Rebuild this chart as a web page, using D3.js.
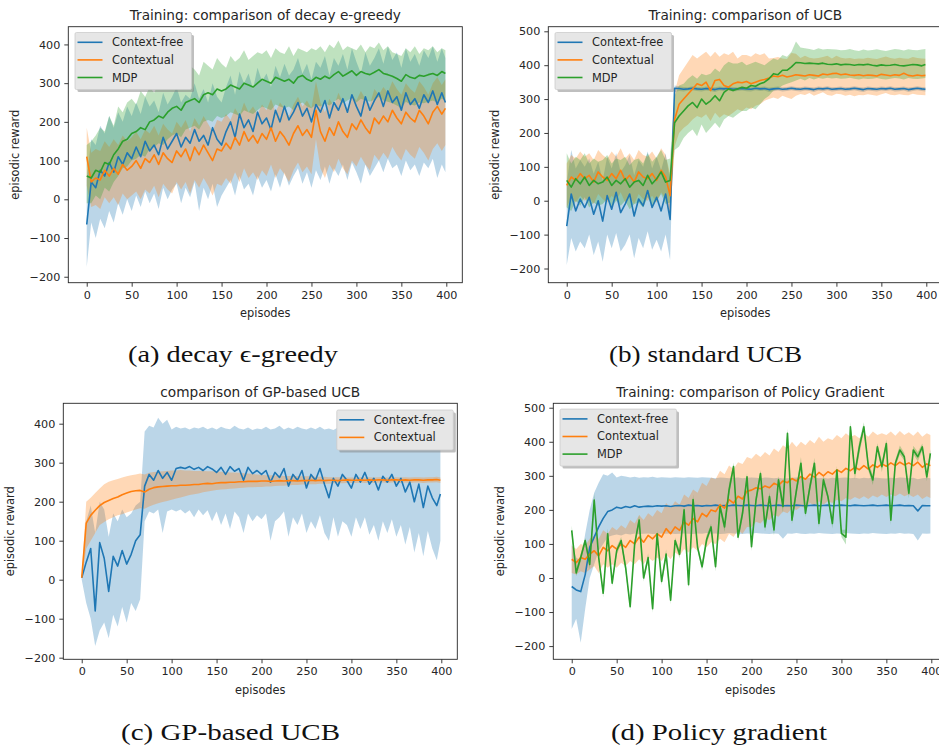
<!DOCTYPE html>
<head>
  <meta charset="utf-8">
  <script src="https://d3js.org/d3.v7.min.js"></script>
  <style>
    body { margin: 0; background: #fff; }
    svg { font-family: "DejaVu Sans", sans-serif; }
    .tick text { font-size: 11.2px; fill: #262626; }
    .tick line { stroke: #262626; stroke-width: 0.9; }
  </style>
</head>

<body>
  <svg width="939" height="751"></svg>
  <script>
    // episodes sampled every 5 plus the last one
    var episodes = d3.range(0, 400, 5).concat([399]);
    var xTicks = [0, 50, 100, 150, 200, 250, 300, 350, 400];
    var seriesNames = ['Context-free', 'Contextual', 'MDP'];
    var colors = ['#1f77b4', '#ff7f0e', '#2ca02c'];

    // (a) decay e-greedy
    var aCfMean = [-65,45,30,75,60,95,70,110,90,120,
      105,135,110,150,125,140,115,160,130,150,
      170,135,160,145,180,150,165,140,185,155,
      140,175,200,160,220,185,205,175,225,195,
      210,180,230,200,240,205,225,250,215,235,
      200,245,225,255,210,250,230,260,225,270,
      240,215,265,230,255,275,240,280,250,265,
      230,275,245,260,235,270,250,280,245,275,
      250];
    var aCfLo = [-175,-60,-100,-50,-75,-30,-60,-10,-40,0,
      -30,10,-20,20,-10,15,-25,30,0,25,
      40,-10,30,5,45,-30,30,0,40,-20,
      10,30,50,10,60,25,40,10,60,30,
      50,20,65,30,70,35,60,80,40,70,
      30,75,50,85,40,80,60,90,50,95,
      70,40,90,60,80,100,70,105,80,90,
      60,100,75,90,60,95,80,105,55,90,
      70];
    var aCfHi = [50,155,140,190,170,215,185,225,200,240,
      215,250,220,265,240,255,225,275,245,265,
      290,250,270,260,300,260,285,250,300,265,
      250,290,320,270,330,300,325,285,340,305,
      325,290,345,315,350,320,335,365,325,350,
      310,355,340,370,320,365,345,375,335,390,
      355,325,380,345,365,390,350,395,360,380,
      340,390,355,375,345,385,365,395,355,390,
      365];
    var aCxMean = [110,45,55,50,75,60,80,65,90,75,
      85,100,80,105,95,115,90,120,105,95,
      125,110,130,100,135,115,140,120,100,130,
      125,145,130,160,140,175,150,165,145,170,
      155,185,150,175,160,140,170,190,165,180,
      160,230,175,150,185,165,200,175,160,195,
      180,205,185,170,210,195,215,200,230,210,
      195,225,210,200,230,215,195,225,240,220,
      235];
    var aCxLo = [35,-20,-15,-25,5,-10,5,-15,15,0,
      10,20,0,25,15,35,5,40,25,15,
      45,25,45,15,50,30,55,35,10,40,
      35,55,40,70,45,80,55,70,50,75,
      60,90,55,80,65,45,75,95,70,85,
      65,155,80,55,90,70,105,80,65,100,
      85,110,90,75,115,100,120,105,135,115,
      100,130,115,105,135,120,100,130,145,125,
      140];
    var aCxHi = [185,120,130,125,150,135,155,140,165,150,
      160,175,155,180,170,190,165,195,180,170,
      200,185,205,175,210,190,215,195,175,205,
      200,220,205,235,215,250,225,240,220,245,
      230,260,225,250,235,215,245,265,240,255,
      235,305,250,225,260,240,275,250,235,270,
      255,280,260,245,285,270,290,275,305,285,
      270,300,285,275,305,290,270,300,315,295,
      310];
    var aMdpMean = [60,55,75,70,95,90,115,130,150,155,
      170,175,185,180,200,205,215,210,225,235,
      240,230,250,255,260,250,270,275,270,285,
      280,285,295,290,285,300,295,290,300,310,
      305,300,315,310,305,310,300,315,320,310,
      305,315,310,318,312,322,330,318,325,332,
      320,330,325,322,328,335,325,322,318,312,
      305,322,315,312,320,318,322,325,320,330,
      325];
    var aMdpLo = [-10,-10,10,0,30,20,45,60,80,85,
      100,105,115,110,130,135,145,140,155,165,
      170,160,180,185,190,180,200,205,200,215,
      210,215,225,220,215,230,225,220,230,240,
      235,230,245,240,235,240,230,245,250,240,
      235,245,240,248,242,252,260,248,255,262,
      250,260,255,252,258,265,255,252,248,242,
      235,252,245,242,250,248,252,255,250,260,
      255];
    var aMdpHi = [140,150,165,185,175,215,190,240,225,250,
      260,245,280,265,290,275,300,290,310,320,
      315,330,310,345,335,320,355,345,335,365,
      350,340,370,355,365,385,360,370,380,375,
      385,365,390,380,375,395,370,390,385,380,
      390,385,395,380,400,390,410,385,395,390,
      385,400,380,395,390,405,385,395,380,375,
      370,390,380,395,375,390,385,395,380,390,
      385];

    // (b) standard UCB
    var bCfMean = [-75,20,-30,5,-20,10,-40,0,-60,15,
      -25,25,-35,-10,20,-45,5,-15,30,-20,
      10,-30,20,-55,332,331,329,330,332,330,
      329,331,330,328,331,330,332,329,330,331,
      330,329,332,330,331,328,330,331,329,330,
      332,330,329,331,330,328,331,330,332,329,
      330,331,329,330,332,330,328,331,330,329,
      331,330,332,329,330,331,328,330,332,330,
      329];
    var bCfLo = [-190,-110,-150,-120,-140,-100,-160,-120,-180,-100,
      -140,-95,-150,-130,-100,-170,-110,-140,-90,-145,
      -115,-150,-100,-175,320,324,322,325,326,324,
      322,325,324,321,325,323,326,322,324,325,
      323,322,326,324,325,321,323,325,322,324,
      326,324,322,325,324,321,325,323,326,322,
      324,325,322,324,326,323,321,325,324,322,
      325,324,326,322,323,325,321,324,326,324,
      322];
    var bCfHi = [50,150,95,120,100,125,80,115,60,130,
      95,140,85,105,135,75,120,100,145,95,
      130,90,140,60,340,338,336,335,338,336,
      335,337,336,335,337,336,338,336,335,337,
      336,335,338,336,337,334,336,337,335,336,
      338,336,335,337,336,334,337,336,338,335,
      336,337,335,336,338,336,334,337,336,335,
      337,336,338,335,336,337,334,336,338,336,
      335];
    var bCxMean = [45,70,60,80,65,75,55,85,70,60,
      80,65,90,60,75,55,85,70,65,80,
      60,90,70,15,240,285,300,315,330,345,
      340,350,325,355,358,340,335,345,350,348,
      352,345,350,355,358,362,368,366,370,365,
      368,372,370,368,372,370,368,374,372,375,
      376,372,374,371,370,372,369,371,370,368,
      373,371,369,372,370,376,370,368,371,369,
      370];
    var bCxLo = [-20,10,-5,15,0,10,-10,20,5,-5,
      15,0,25,-5,10,-10,20,5,0,15,
      -5,25,5,-50,160,200,215,225,240,250,
      245,255,235,260,245,255,250,260,270,265,
      275,270,280,285,295,300,305,300,310,305,
      300,310,315,312,318,310,315,320,312,310,
      316,314,310,313,308,312,311,314,312,310,
      314,318,313,311,314,312,311,316,313,312,
      311];
    var bCxHi = [110,135,125,145,130,140,120,150,135,125,
      145,130,155,125,140,120,150,135,130,145,
      125,155,135,80,320,370,390,410,430,420,
      430,440,425,440,425,435,430,440,420,430,
      430,425,435,430,435,420,421,424,420,418,
      436,434,421,428,422,420,421,424,428,420,
      428,422,420,421,418,420,419,422,420,418,
      422,426,421,419,422,420,419,424,421,420,
      419];
    var bMdpMean = [60,40,65,50,70,45,60,50,55,70,
      45,60,50,65,40,55,60,45,75,50,
      65,85,55,60,230,250,265,280,290,275,
      300,285,295,310,295,320,330,325,330,335,
      332,340,338,345,350,360,375,372,385,385,
      395,408,407,405,406,405,404,406,403,402,
      404,401,403,402,400,402,401,403,400,398,
      401,399,400,402,399,398,400,402,401,398,
      402];
    var bMdpLo = [-20,-30,0,-15,10,-20,-5,-15,-10,5,
      -20,0,-15,0,-25,-10,-5,-20,10,-15,
      0,20,-10,-5,150,160,185,200,210,190,
      225,200,215,230,215,240,250,245,255,265,
      265,275,270,285,300,310,325,330,340,345,
      350,355,360,355,362,358,362,360,363,361,
      362,360,361,363,360,358,361,359,360,362,
      359,358,360,362,361,358,362,360,359,361,
      362];
    var bMdpHi = [140,110,130,120,140,110,125,115,120,135,
      110,125,120,130,105,120,125,110,140,115,
      130,150,120,125,310,340,345,360,370,360,
      375,370,375,390,380,400,410,405,405,410,
      400,405,410,405,400,410,420,415,430,425,
      440,470,452,450,448,445,450,446,448,447,
      446,444,445,448,444,442,446,443,445,447,
      444,442,445,448,446,443,447,445,444,446,
      448];

    // (c) GP-based UCB
    var cCfMean = [5,45,80,-80,95,55,-30,60,35,75,
      40,65,100,115,240,270,255,280,260,275,
      255,285,288,285,290,283,288,280,290,284,
      275,288,270,290,278,285,255,288,272,280,
      270,280,250,275,262,285,240,270,255,280,
      235,270,255,285,245,210,260,240,270,255,
      235,270,250,275,245,260,230,265,250,270,
      240,260,225,250,200,245,185,240,210,190,
      220];
    var cCfLo = [0,-60,-100,-170,-130,-110,-150,-90,-120,-70,
      -110,-60,-80,-50,150,175,170,180,120,175,
      180,175,180,170,178,160,180,165,178,150,
      175,140,170,130,175,160,120,170,150,165,
      155,170,100,150,160,175,110,160,140,170,
      120,150,130,165,120,100,160,110,150,140,
      110,160,130,160,115,140,100,150,120,155,
      110,140,90,135,70,120,60,125,80,50,
      100];
    var cCfHi = [10,150,190,120,200,180,110,170,150,180,
      160,170,190,200,380,395,390,415,400,410,
      385,392,388,390,385,390,388,392,386,390,
      385,392,388,386,395,388,385,390,384,388,
      386,392,385,388,395,385,390,386,392,388,
      385,390,386,392,385,388,384,390,386,392,
      385,388,395,386,390,384,388,392,385,390,
      386,388,384,390,385,388,386,390,384,386,
      385];
    var cCxMean = [5,145,165,178,190,198,203,208,212,218,
      222,226,228,229,225,232,236,238,239,240,
      241,241,242,242,243,244,244,246,247,246,
      248,249,249,250,250,251,251,252,252,252,
      253,253,252,253,254,253,254,254,253,254,
      254,255,254,255,254,255,255,254,255,256,
      255,255,256,255,256,255,256,256,255,256,
      256,255,256,255,256,256,255,256,256,257,
      255];
    var cCxLo = [0,80,100,120,140,148,155,160,165,168,
      172,176,180,183,182,188,192,196,199,202,
      205,208,211,214,217,219,221,224,226,228,
      230,231,232,233,234,235,236,237,237,238,
      238,239,239,240,241,241,242,243,243,244,
      244,245,245,246,246,246,247,247,247,248,
      248,248,249,248,249,248,249,249,248,249,
      249,248,249,248,249,249,248,249,249,250,
      248];
    var cCxHi = [10,200,210,222,234,245,251,255,258,262,
      265,268,270,272,270,274,276,277,278,279,
      280,280,281,280,280,279,279,279,278,278,
      277,277,276,275,275,274,273,272,271,270,
      269,268,268,267,267,266,266,266,265,265,
      265,265,264,264,264,263,263,263,263,262,
      262,262,263,262,263,262,263,263,262,263,
      263,262,263,262,263,263,262,263,263,264,
      262];

    // (d) Policy gradient
    var dCfMean = [-25,-35,-40,10,90,120,150,175,195,200,
      208,205,210,207,212,208,210,211,210,212,
      211,212,210,212,213,211,214,212,213,211,
      213,212,214,212,213,212,214,213,212,214,
      213,212,214,213,212,213,214,212,213,212,
      214,213,212,213,214,212,213,214,212,213,
      214,213,212,214,213,212,213,214,212,213,
      214,212,213,214,212,213,212,197,213,212,
      212];
    var dCfLo = [-150,-120,-190,-90,0,40,80,100,120,125,
      128,125,130,128,131,129,130,131,129,130,
      131,130,131,129,130,131,130,129,131,130,
      132,130,131,129,130,132,131,130,129,131,
      130,132,131,130,129,131,130,115,131,130,
      132,130,129,131,130,132,131,130,129,131,
      130,132,131,130,129,131,130,132,131,130,
      129,131,130,132,130,131,129,110,131,130,
      131];
    var dCfHi = [100,60,50,130,200,250,280,305,300,310,
      295,300,298,295,297,294,296,295,297,294,
      296,295,294,296,295,294,296,295,294,296,
      295,294,293,295,294,293,294,295,293,294,
      295,294,293,295,294,293,294,292,293,294,
      295,294,293,294,295,293,294,292,294,293,
      294,295,293,294,292,294,293,295,294,293,
      292,294,293,295,294,293,294,290,293,294,
      293];
    var dCxMean = [55,45,60,55,70,80,65,90,80,95,
      85,100,90,110,100,120,105,125,115,130,
      120,145,130,150,140,165,155,175,165,190,
      180,200,195,215,205,230,220,240,232,255,
      258,265,262,270,265,278,272,285,280,292,
      285,298,290,305,296,310,300,312,305,318,
      310,322,315,325,318,330,320,332,325,335,
      328,338,330,340,332,338,330,340,325,335,
      330];
    var dCxLo = [15,10,20,15,25,35,15,40,30,40,
      30,45,35,50,40,55,40,60,50,60,
      50,70,55,75,65,85,75,90,80,100,
      90,105,100,115,105,130,120,140,130,150,
      150,165,160,175,170,185,180,195,190,205,
      200,210,205,220,212,225,215,225,220,230,
      225,235,230,238,232,240,232,242,236,245,
      238,245,240,248,240,245,238,245,232,240,
      235];
    var dCxHi = [95,85,100,95,115,125,115,140,130,150,
      140,155,145,170,160,185,170,190,180,200,
      190,220,205,225,215,245,235,260,250,280,
      270,295,290,315,305,330,320,340,335,355,
      350,365,355,370,360,380,370,390,380,400,
      385,400,390,405,395,415,400,410,405,420,
      410,425,415,420,410,425,415,430,420,425,
      420,430,418,432,420,428,418,430,415,425,
      420];
    var dMdpMean = [140,15,60,110,40,229,60,-45,130,-15,
      80,110,30,-84,100,170,0,60,-90,130,
      -10,70,-65,110,70,200,-20,230,90,33,
      112,150,33,210,150,258,327,120,190,297,
      92,229,307,150,239,141,288,210,425,170,
      258,337,190,268,337,160,288,239,160,317,
      131,120,444,307,385,444,327,288,385,327,
      395,170,337,376,356,249,376,356,385,297,
      366];
    var dMdpStd = [15,10,12,8,14,20,10,12,15,9,
      12,10,14,11,9,15,10,13,12,10,
      11,14,12,9,13,16,11,15,10,12,
      13,9,14,11,15,18,12,10,16,11,
      13,15,10,14,12,16,11,20,13,12,
      15,18,11,14,16,12,13,10,15,12,
      11,22,14,16,20,13,12,15,11,16,
      12,14,10,13,11,15,12,14,10,13,
      12];
    var dMdpLo = dMdpMean.map(function(v, i) { return v - dMdpStd[i]; });
    var dMdpHi = dMdpMean.map(function(v, i) { return v + dMdpStd[i]; });

    var panels = [
      {id: 'a', title: 'Training: comparison of decay e-greedy', left: 68.3, top: 26.7,
        yDomain: [-215.4, 445.8], yTicks: [-200, -100, 0, 100, 200, 300, 400], legendRight: false,
        caption: '(a) decay \u03f5-greedy', capX: 233, capY: 362, capW: 210,
        series: [[aCfMean, aCfLo, aCfHi], [aCxMean, aCxLo, aCxHi], [aMdpMean, aMdpLo, aMdpHi]]},
      {id: 'b', title: 'Training: comparison of UCB', left: 548.3, top: 26.7,
        yDomain: [-241.9, 513.6], yTicks: [-200, -100, 0, 100, 200, 300, 400, 500], legendRight: false,
        caption: '(b) standard UCB', capX: 705.5, capY: 362, capW: 193,
        series: [[bCfMean, bCfLo, bCfHi], [bCxMean, bCxLo, bCxHi], [bMdpMean, bMdpLo, bMdpHi]]},
      {id: 'c', title: 'comparison of GP-based UCB', left: 63.3, top: 403.3,
        yDomain: [-204.1, 452.3], yTicks: [-200, -100, 0, 100, 200, 300, 400], legendRight: true,
        caption: '(c) GP-based UCB', capX: 230.5, capY: 740, capW: 219,
        series: [[cCfMean, cCfLo, cCfHi], [cCxMean, cCxLo, cCxHi]]},
      {id: 'd', title: 'Training: comparison of Policy Gradient', left: 553.3, top: 403.3,
        yDomain: [-238.8, 513], yTicks: [-200, -100, 0, 100, 200, 300, 400, 500], legendRight: false,
        caption: '(d) Policy gradient', capX: 719, capY: 740, capW: 216,
        series: [[dCfMean, dCfLo, dCfHi], [dCxMean, dCxLo, dCxHi], [dMdpMean, dMdpLo, dMdpHi]]}
    ];

    var svg = d3.select('svg');
    var W = 394, H = 256;
    var fmt = d3.format('d');

    panels.forEach(function(p) {
      var g = svg.append('g').attr('transform', 'translate(' + [p.left, p.top] + ')');
      var x = d3.scaleLinear().domain([-20.5, 417.8]).range([0, W]);
      var y = d3.scaleLinear().domain(p.yDomain).range([H, 0]);

      g.append('clipPath').attr('id', 'clip-' + p.id)
        .append('rect').attr('width', W).attr('height', H);
      var plot = g.append('g').attr('clip-path', 'url(#clip-' + p.id + ')');

      var rowsList = p.series.map(function(s) {
        return episodes.map(function(ep, i) {
          return {ep: ep, mean: s[0][i], lo: s[1][i], hi: s[2][i]};
        });
      });

      var area = d3.area()
        .x(function(d) { return x(d.ep); })
        .y0(function(d) { return y(d.lo); })
        .y1(function(d) { return y(d.hi); });
      var line = d3.line()
        .x(function(d) { return x(d.ep); })
        .y(function(d) { return y(d.mean); });

      // shaded bands first, then the mean lines
      rowsList.forEach(function(rows, k) {
        plot.append('path').datum(rows)
          .attr('d', area)
          .attr('fill', colors[k])
          .attr('fill-opacity', 0.3);
      });
      rowsList.forEach(function(rows, k) {
        plot.append('path').datum(rows)
          .attr('d', line)
          .attr('fill', 'none')
          .attr('stroke', colors[k])
          .attr('stroke-width', 1.6)
          .attr('stroke-linejoin', 'round');
      });

      // axes
      var xa = g.append('g').attr('transform', 'translate(0,' + H + ')')
        .call(d3.axisBottom(x).tickValues(xTicks).tickFormat(fmt).tickSize(4).tickPadding(4));
      var ya = g.append('g')
        .call(d3.axisLeft(y).tickValues(p.yTicks).tickFormat(fmt).tickSize(4).tickPadding(4));
      xa.select('.domain').remove();
      ya.select('.domain').remove();
      xa.selectAll('text').attr('font-family', 'DejaVu Sans');
      ya.selectAll('text').attr('font-family', 'DejaVu Sans');

      g.append('rect')
        .attr('width', W).attr('height', H)
        .attr('fill', 'none')
        .attr('stroke', '#262626')
        .attr('stroke-width', 0.9);

      // titles and labels
      g.append('text')
        .attr('x', W / 2).attr('y', -6.5)
        .attr('text-anchor', 'middle')
        .attr('font-size', 13.7).attr('fill', '#262626')
        .text(p.title);
      g.append('text')
        .attr('x', W / 2).attr('y', H + 34.5)
        .attr('text-anchor', 'middle')
        .attr('font-size', 11.4).attr('fill', '#262626')
        .text('episodes');
      g.append('text')
        .attr('transform', 'translate(-53,' + (H / 2) + ')rotate(-90)')
        .attr('text-anchor', 'middle')
        .attr('dominant-baseline', 'central')
        .attr('font-size', 11.4).attr('fill', '#262626')
        .text('episodic reward');

      // legend with shadow
      var n = p.series.length;
      var lw = 116.5, lh = n === 3 ? 57 : 40;
      var lx = p.legendRight ? W - 4 - lw : 6.7;
      var ly = p.legendRight ? 6.7 : 5.8;
      var leg = g.append('g').attr('transform', 'translate(' + [lx, ly] + ')');
      leg.append('rect')
        .attr('x', 2.5).attr('y', 2.5)
        .attr('width', lw).attr('height', lh)
        .attr('rx', 1.5)
        .attr('fill', '#7f7f7f').attr('fill-opacity', 0.5);
      leg.append('rect')
        .attr('width', lw).attr('height', lh)
        .attr('rx', 1.5)
        .attr('fill', '#e6e6e6')
        .attr('stroke', '#cccccc').attr('stroke-width', 0.8);
      for (var k = 0; k < n; k++) {
        var ry = 9.8 + k * 17.6;
        leg.append('line')
          .attr('x1', 2.5).attr('x2', 27.5)
          .attr('y1', ry).attr('y2', ry)
          .attr('stroke', colors[k]).attr('stroke-width', 1.6);
        leg.append('text')
          .attr('x', 37).attr('y', ry)
          .attr('dominant-baseline', 'central')
          .attr('font-size', 11.4).attr('fill', '#262626')
          .text(seriesNames[k]);
      }

      // sub-figure caption
      svg.append('text')
        .attr('x', p.capX).attr('y', p.capY)
        .attr('text-anchor', 'middle')
        .attr('font-family', '"Liberation Serif", "DejaVu Serif", serif')
        .attr('font-size', 23)
        .attr('fill', '#111')
        .attr('textLength', p.capW)
        .attr('lengthAdjust', 'spacingAndGlyphs')
        .text(p.caption);
    });
  </script>
</body>
